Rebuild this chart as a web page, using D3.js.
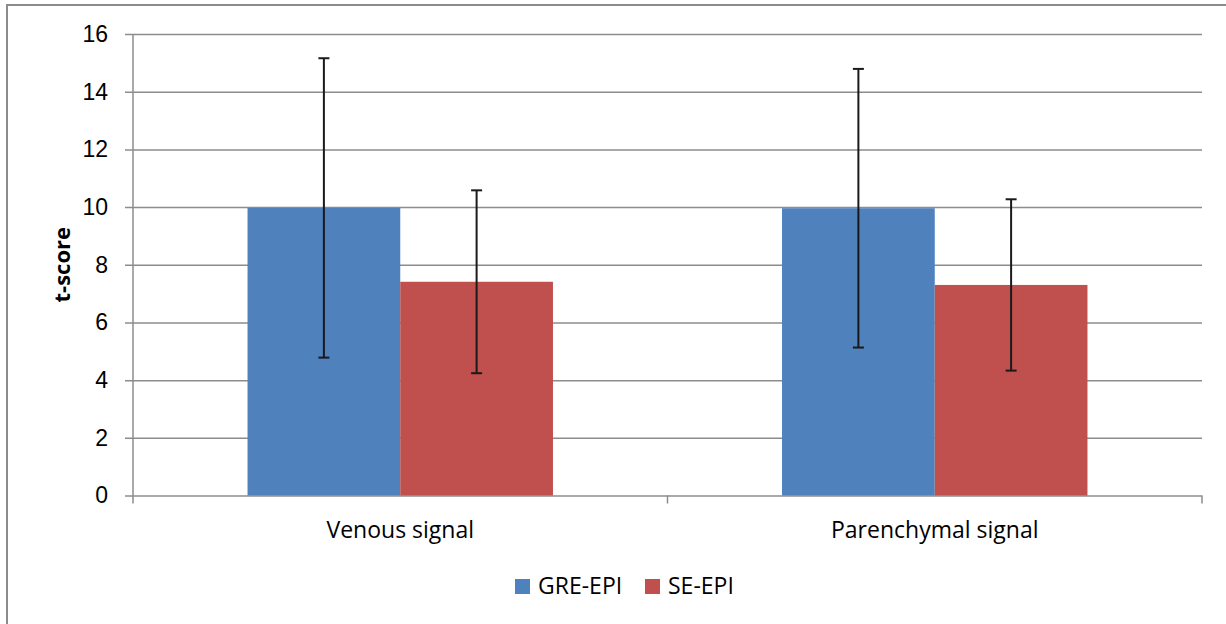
<!DOCTYPE html>
<html>
<head>
<meta charset="utf-8">
<script src="https://cdn.jsdelivr.net/npm/d3@7"></script>
<style>
  html, body { margin: 0; padding: 0; background: #fff; }
  svg { display: block; font-family: "Open Sans", "Liberation Sans", sans-serif; }
</style>
</head>
<body>
<svg id="chart" width="1226" height="624"></svg>
<script>
// Mean t-scores and error-bar half widths per signal type
const categories = ["Venous signal", "Parenchymal signal"];
const seriesNames = ["GRE-EPI", "SE-EPI"];
const greValues = [9.97, 9.96];
const greErrors = [5.19, 4.83];
const seValues = [7.41, 7.30];
const seErrors = [3.17, 2.97];
const yTicks = [0, 2, 4, 6, 8, 10, 12, 14, 16];
const colors = ["#4F81BD", "#C0504D"];

const series = [
  { name: seriesNames[0], values: greValues, errors: greErrors, color: colors[0] },
  { name: seriesNames[1], values: seValues, errors: seErrors, color: colors[1] }
];

const svg = d3.select("#chart");
const plot = { left: 133, right: 1202, top: 34, bottom: 495.5 };
const gridColor = "#8c8c8c";
const fontSize = "23px";

// Outer chart frame
svg.append("path")
  .attr("d", "M7,630 L7,5 L1232,5")
  .attr("fill", "none")
  .attr("stroke", "#8c8c8c")
  .attr("stroke-width", 2);

const y = d3.scaleLinear().domain([0, 16]).range([plot.bottom, plot.top]);
const x0 = d3.scaleBand().domain(categories).range([plot.left, plot.right]).paddingInner(0).paddingOuter(0);
const x1 = d3.scaleBand().domain(seriesNames).range([0, x0.bandwidth()]).paddingInner(0).paddingOuter(0.75);

// Horizontal gridlines with short outer ticks
const yAxis = d3.axisLeft(y).tickValues(yTicks).tickSize(-(plot.right - plot.left)).tickPadding(25).tickFormat(d3.format("d"));
const gy = svg.append("g").attr("transform", `translate(${plot.left},0)`).call(yAxis);
gy.select(".domain").remove();
gy.selectAll(".tick line")
  .attr("x1", -8)
  .attr("stroke", gridColor)
  .attr("stroke-width", 1.5);
gy.selectAll(".tick text")
  .attr("fill", "#000")
  .style("font-size", fontSize);

// Vertical axis line (extends slightly below zero)
svg.append("line")
  .attr("x1", plot.left).attr("x2", plot.left)
  .attr("y1", plot.top).attr("y2", plot.bottom + 8)
  .attr("stroke", gridColor).attr("stroke-width", 1.5);

// Category boundary ticks on the x axis
const boundaries = categories.map(c => x0(c)).concat([plot.right]);
svg.append("g").selectAll("line").data(boundaries.slice(1)).join("line")
  .attr("x1", d => d).attr("x2", d => d)
  .attr("y1", plot.bottom).attr("y2", plot.bottom + 8)
  .attr("stroke", gridColor).attr("stroke-width", 1.5);

// Bars
const groups = svg.append("g").selectAll("g").data(categories).join("g")
  .attr("transform", c => `translate(${x0(c)},0)`);

groups.selectAll("rect")
  .data((c, i) => series.map(s => ({ s, v: s.values[i], e: s.errors[i] })))
  .join("rect")
  .attr("x", d => x1(d.s.name))
  .attr("width", x1.bandwidth())
  .attr("y", d => y(d.v))
  .attr("height", d => y(0) - y(d.v))
  .attr("fill", d => d.s.color);

// Error bars
const err = groups.selectAll("g.err")
  .data((c, i) => series.map(s => ({ s, v: s.values[i], e: s.errors[i] })))
  .join("g").attr("class", "err")
  .attr("transform", d => `translate(${x1(d.s.name) + x1.bandwidth() / 2},0)`);
const capHalf = 5.5;
err.append("line")
  .attr("x1", 0).attr("x2", 0)
  .attr("y1", d => y(d.v + d.e)).attr("y2", d => y(d.v - d.e))
  .attr("stroke", "#1a1a1a").attr("stroke-width", 2);
err.append("line")
  .attr("x1", -capHalf).attr("x2", capHalf)
  .attr("y1", d => y(d.v + d.e)).attr("y2", d => y(d.v + d.e))
  .attr("stroke", "#1a1a1a").attr("stroke-width", 2);
err.append("line")
  .attr("x1", -capHalf).attr("x2", capHalf)
  .attr("y1", d => y(d.v - d.e)).attr("y2", d => y(d.v - d.e))
  .attr("stroke", "#1a1a1a").attr("stroke-width", 2);

// Category labels
svg.append("g").selectAll("text").data(categories).join("text")
  .attr("x", c => x0(c) + x0.bandwidth() / 2)
  .attr("y", 538)
  .attr("text-anchor", "middle")
  .style("font-size", fontSize)
  .attr("fill", "#000")
  .text(c => c);

// Y axis title
svg.append("text")
  .attr("transform", `translate(70,${(plot.top + plot.bottom) / 2}) rotate(-90)`)
  .attr("text-anchor", "middle")
  .style("font-size", "22px")
  .style("font-weight", "bold")
  .attr("fill", "#000")
  .text("t-score");

// Legend
const legendX = [515, 645];
const legend = svg.append("g").selectAll("g").data(series).join("g")
  .attr("transform", (d, i) => `translate(${legendX[i]},579)`);
legend.append("rect")
  .attr("width", 15).attr("height", 15)
  .attr("fill", d => d.color);
legend.append("text")
  .attr("x", 23).attr("y", 15)
  .style("font-size", fontSize)
  .attr("fill", "#000")
  .text(d => d.name);
</script>
</body>
</html>
